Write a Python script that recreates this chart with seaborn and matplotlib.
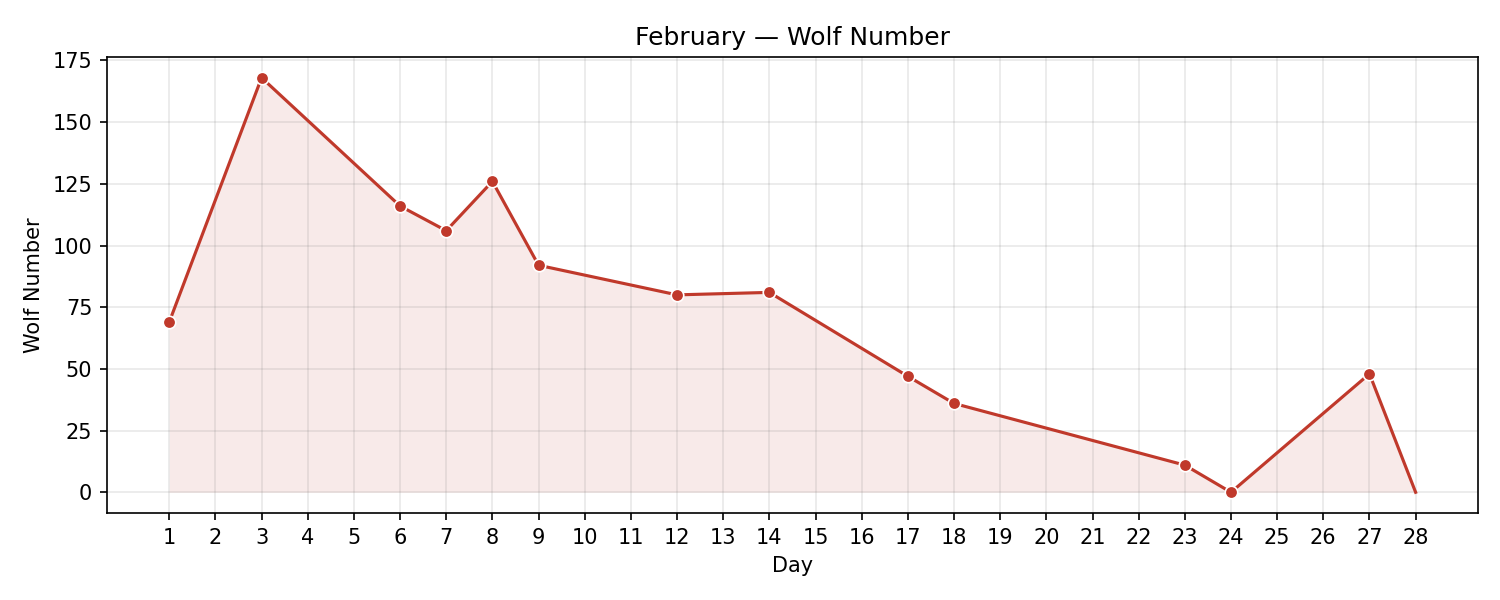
import pandas as pd
import numpy as np
import matplotlib
matplotlib.use('Agg')
import matplotlib.pyplot as plt
import seaborn as sns

# --- Data ---
days = [1, 3, 6, 7, 8, 9, 12, 14, 17, 18, 23, 24, 27, 28]
wolf_number = [69, 168, 116, 106, 126, 92, 80, 81, 47, 36, 11, 0, 48, 0]
# the last point (day 28) is part of the line but has no marker
has_marker = [True] * 13 + [False]

df = pd.DataFrame({'day': days, 'wolf': wolf_number, 'marker': has_marker})

color = '#c0392b'

plt.rcParams['font.family'] = ['DejaVu Sans']

fig, ax = plt.subplots(figsize=(10, 4), dpi=150)

ax.fill_between(df['day'], df['wolf'], 0, color=color, alpha=0.1, linewidth=0)
sns.lineplot(data=df, x='day', y='wolf', color=color, linewidth=1.5, ax=ax)
sns.scatterplot(data=df[df['marker']], x='day', y='wolf', color=color, s=36,
                edgecolor='white', linewidth=0.8, zorder=3, ax=ax)

ax.set_xticks(range(1, 29))
ax.set_yticks(range(0, 176, 25))
ax.grid(True, color='gray', alpha=0.18, linewidth=0.8)

ax.set_title('February \u2014 Wolf Number')
ax.set_xlabel('Day')
ax.set_ylabel('Wolf Number')

plt.subplots_adjust(left=0.0713, right=0.9853, top=0.905, bottom=0.145)
plt.savefig('out.png')
plt.close()
